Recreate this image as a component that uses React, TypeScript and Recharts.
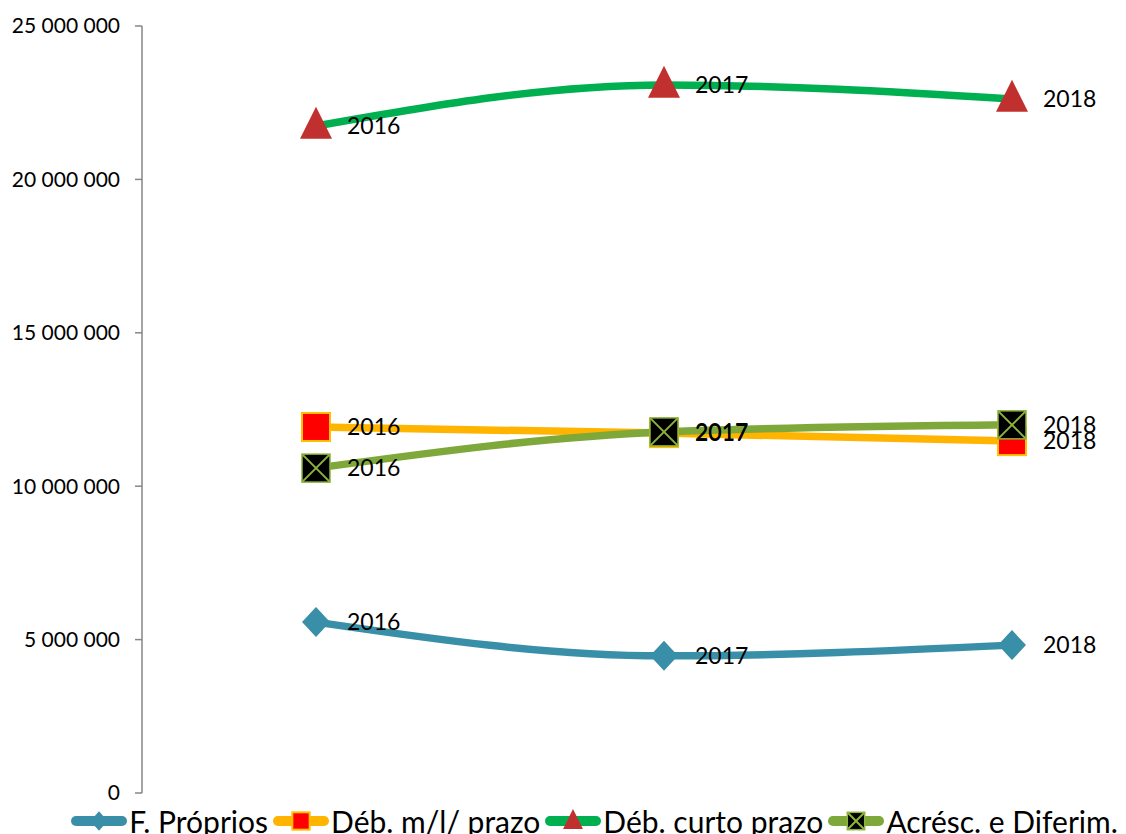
import React from 'react';
import { LineChart, Line, XAxis, YAxis, Legend, LabelList } from 'recharts';

document.body.style.margin = '0';

const years = ['2016', '2017', '2018'];
const fProprios = [5570000, 4470000, 4820000];
const debML = [11930000, 11730000, 11470000];
const debCurto = [21740000, 23080000, 22620000];
const acresc = [10590000, 11770000, 12000000];
const yTicks = [0, 5000000, 10000000, 15000000, 20000000, 25000000];

const data = years.map((year, i) => ({
  year,
  fp: fProprios[i],
  ml: debML[i],
  cp: debCurto[i],
  ad: acresc[i],
}));

const FONT = 'Lato, "Open Sans", sans-serif';

const fmt = (n: number) => String(n).replace(/\B(?=(\d{3})+(?!\d))/g, ' ');

// marker shapes, drawn around a centre point
const Marker = ({ kind, cx, cy, s = 1 }: { kind: string; cx: number; cy: number; s?: number }) => {
  if (kind === 'diamond') {
    const r = 14 * s;
    return <path d={`M${cx - r},${cy} L${cx},${cy - r - 1} L${cx + r},${cy} L${cx},${cy + r + 1} Z`} fill="#3A8FA8" />;
  }
  if (kind === 'square') {
    const r = 14 * s;
    return <rect x={cx - r} y={cy - r} width={2 * r} height={2 * r} fill="#FF0000" stroke="#FFC000" strokeWidth={2} />;
  }
  if (kind === 'triangle') {
    const r = 16 * s;
    return <path d={`M${cx},${cy - r} L${cx + r},${cy + r} L${cx - r},${cy + r} Z`} fill="#C0302F" transform={`translate(0,${-r * 0.2})`} />;
  }
  const r = 14 * s;
  return (
    <g>
      <rect x={cx - r} y={cy - r} width={2 * r} height={2 * r} fill="#000" stroke="#8DB33A" strokeWidth={1.5} />
      <path d={`M${cx - r},${cy - r} L${cx + r},${cy + r} M${cx + r},${cy - r} L${cx - r},${cy + r}`} stroke="#8DB33A" strokeWidth={2} />
    </g>
  );
};

const makeDot = (kind: string) => (props: any) => (
  <g key={`${kind}-${props.index}`}>
    <Marker kind={kind} cx={props.cx} cy={props.cy} />
  </g>
);

const renderLabel = (props: any) => (
  <text x={props.x + 31} y={props.y + 8} fontSize={23} fontFamily={FONT} fill="#000">
    {props.value}
  </text>
);

const series = [
  { key: 'fp', name: 'F. Próprios', color: '#3A8FA8', kind: 'diamond' },
  { key: 'ml', name: 'Déb. m/l/ prazo', color: '#FFB400', kind: 'square' },
  { key: 'cp', name: 'Déb. curto prazo', color: '#00B050', kind: 'triangle' },
  { key: 'ad', name: 'Acrésc. e Diferim.', color: '#7FA83A', kind: 'cross' },
];

const renderLegend = () => (
  <div style={{ display: 'flex', justifyContent: 'center', alignItems: 'center', height: 36, paddingLeft: 66, fontFamily: FONT, fontSize: 30, color: '#000', whiteSpace: 'nowrap' }}>
    {series.map((s) => (
      <div key={s.key} style={{ display: 'flex', alignItems: 'center', marginRight: 4 }}>
        <svg width={58} height={32}>
          <line x1={6} y1={16} x2={52} y2={16} stroke={s.color} strokeWidth={10} strokeLinecap="round" />
          <Marker kind={s.kind} cx={29} cy={16} s={0.62} />
        </svg>
        <span style={{ marginLeft: 1 }}>{s.name}</span>
      </div>
    ))}
  </div>
);

export default function App() {
  return (
    <LineChart width={1126} height={834} data={data} margin={{ top: 26, right: 0, bottom: 5, left: 0 }}>
      <XAxis dataKey="year" hide padding={{ left: 174, right: 114 }} />
      <YAxis
        width={142}
        domain={[0, 25000000]}
        ticks={yTicks}
        tickFormatter={fmt}
        tickSize={7}
        tickMargin={15}
        axisLine={{ stroke: '#868686', strokeWidth: 1.5 }}
        tickLine={{ stroke: '#868686', strokeWidth: 1.5 }}
        tick={{ fill: '#000', fontSize: 21, fontFamily: FONT }}
        interval={0}
      />
      <Legend content={renderLegend} verticalAlign="bottom" wrapperStyle={{ top: 803, left: 0, width: 1126 }} />
      {series.map((s) => (
        <Line
          key={s.key}
          type="monotone"
          dataKey={s.key}
          name={s.name}
          stroke={s.color}
          strokeWidth={7.5}
          dot={makeDot(s.kind)}
          activeDot={false}
          isAnimationActive={false}
        >
          <LabelList dataKey="year" content={renderLabel} />
        </Line>
      ))}
    </LineChart>
  );
}
